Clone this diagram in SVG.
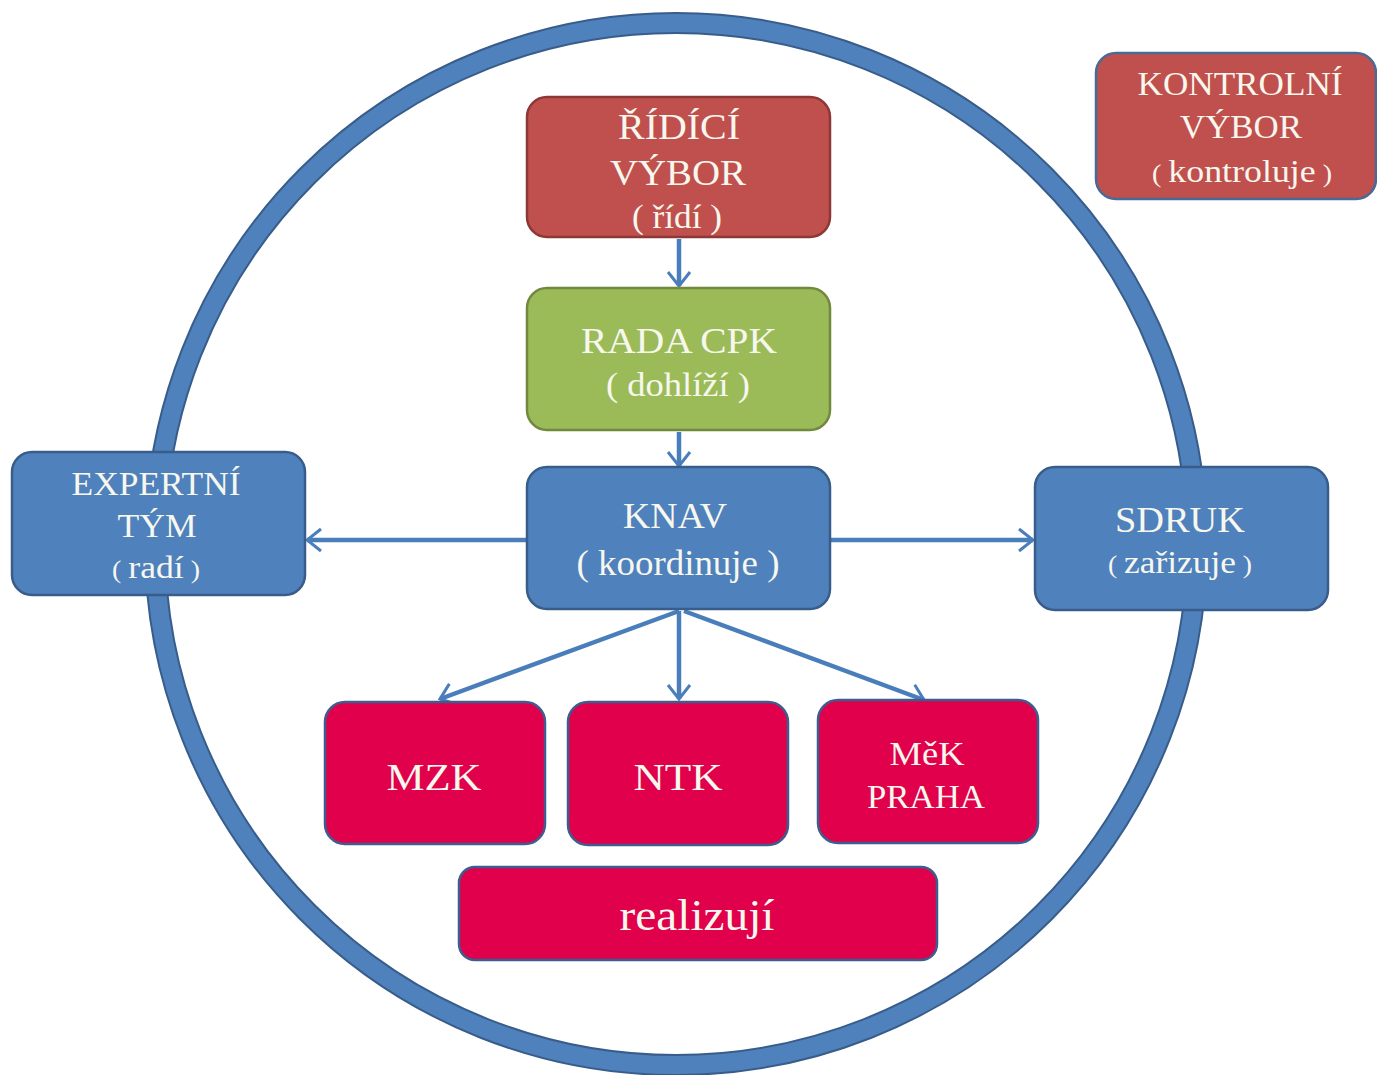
<svg xmlns="http://www.w3.org/2000/svg" width="1377" height="1075" viewBox="0 0 1377 1075">
<style>
.t{font-family:"Liberation Serif","DejaVu Serif",serif;fill:#f7f7ee;text-anchor:middle}
.red{fill:#c0504d;stroke:#8c3836;stroke-width:2.5}
.green{fill:#9bbb59;stroke:#71893f;stroke-width:2.5}
.blue{fill:#4f81bd;stroke:#385d8a;stroke-width:2.5}
.crim{fill:#e1004b;stroke:#3e5d8f;stroke-width:2.5}
.c{stroke:#4a7ebb;stroke-width:4.5;fill:none;marker-end:url(#ah)}
</style>
<defs>
<marker id="ah" viewBox="0 0 18 26" refX="16" refY="13" markerWidth="18" markerHeight="26" markerUnits="userSpaceOnUse" orient="auto">
<path d="M2,2 L16,13 L2,24" fill="none" stroke="#4a7ebb" stroke-width="3"/>
</marker>
</defs>
<rect width="1377" height="1075" fill="#ffffff"/>
<g id="ring">
<circle cx="676" cy="544" r="521" fill="none" stroke="#385d8a" stroke-width="22"/>
<circle cx="676" cy="544" r="521" fill="none" stroke="#4f81bd" stroke-width="18"/>
</g>
<g id="connectors">
<line class="c" x1="679" y1="239" x2="679" y2="286"/>
<line class="c" x1="679" y1="432" x2="679" y2="466"/>
<line class="c" x1="527" y1="540" x2="307" y2="540"/>
<line class="c" x1="830" y1="540" x2="1033" y2="540"/>
<line class="c" x1="679" y1="611" x2="440" y2="699"/>
<line class="c" x1="679" y1="611" x2="679" y2="699"/>
<line class="c" x1="684" y1="611" x2="924" y2="700"/>
</g>
<g id="ridici">
<rect class="red" x="527" y="97" width="303" height="140" rx="20"/>
<text class="t" x="679" y="139" font-size="35" textLength="122" lengthAdjust="spacingAndGlyphs">ŘÍDÍCÍ</text>
<text class="t" x="678" y="185" font-size="35" textLength="136" lengthAdjust="spacingAndGlyphs">VÝBOR</text>
<text class="t" x="677" y="228" font-size="33" textLength="90" lengthAdjust="spacingAndGlyphs">( řídí )</text>
</g>
<g id="kontrolni">
<rect class="red" x="1096" y="53" width="280" height="146" rx="20" style="stroke:#4a6a96"/>
<text class="t" x="1240" y="95" font-size="33" textLength="205" lengthAdjust="spacingAndGlyphs">KONTROLNÍ</text>
<text class="t" x="1241" y="138" font-size="33" textLength="122" lengthAdjust="spacingAndGlyphs">VÝBOR</text>
<text class="t" x="1242" y="182" font-size="32" textLength="180" lengthAdjust="spacingAndGlyphs"><tspan font-size="25">( </tspan>kontroluje<tspan font-size="25"> )</tspan></text>
</g>
<g id="rada">
<rect class="green" x="527" y="288" width="303" height="142" rx="20"/>
<text class="t" x="679" y="353" font-size="35" textLength="196" lengthAdjust="spacingAndGlyphs">RADA CPK</text>
<text class="t" x="678" y="396" font-size="34" textLength="144" lengthAdjust="spacingAndGlyphs">( dohlíží )</text>
</g>
<g id="knav">
<rect class="blue" x="527" y="467" width="303" height="142" rx="20"/>
<text class="t" x="675" y="528" font-size="35" textLength="104" lengthAdjust="spacingAndGlyphs">KNAV</text>
<text class="t" x="678" y="575" font-size="35" textLength="203" lengthAdjust="spacingAndGlyphs">( koordinuje )</text>
</g>
<g id="expertni">
<rect class="blue" x="12" y="452" width="293" height="143" rx="20"/>
<text class="t" x="156" y="495" font-size="33" textLength="169" lengthAdjust="spacingAndGlyphs">EXPERTNÍ</text>
<text class="t" x="157" y="537" font-size="33" textLength="79" lengthAdjust="spacingAndGlyphs">TÝM</text>
<text class="t" x="156" y="578" font-size="32" textLength="88" lengthAdjust="spacingAndGlyphs"><tspan font-size="25">( </tspan>radí<tspan font-size="25"> )</tspan></text>
</g>
<g id="sdruk">
<rect class="blue" x="1035" y="467" width="293" height="143" rx="20"/>
<text class="t" x="1180" y="532" font-size="35" textLength="130" lengthAdjust="spacingAndGlyphs">SDRUK</text>
<text class="t" x="1180" y="573" font-size="32" textLength="144" lengthAdjust="spacingAndGlyphs"><tspan font-size="25">( </tspan>zařizuje<tspan font-size="25"> )</tspan></text>
</g>
<g id="mzk">
<rect class="crim" x="325" y="702" width="220" height="142" rx="20"/>
<text class="t" x="434" y="790" font-size="38" textLength="95" lengthAdjust="spacingAndGlyphs">MZK</text>
</g>
<g id="ntk">
<rect class="crim" x="568" y="702" width="220" height="143" rx="20"/>
<text class="t" x="678" y="790" font-size="38" textLength="89" lengthAdjust="spacingAndGlyphs">NTK</text>
</g>
<g id="mek">
<rect class="crim" x="818" y="700" width="220" height="143" rx="20"/>
<text class="t" x="927" y="765" font-size="33" textLength="75" lengthAdjust="spacingAndGlyphs">MěK</text>
<text class="t" x="926" y="808" font-size="33" textLength="118" lengthAdjust="spacingAndGlyphs">PRAHA</text>
</g>
<g id="realizuji">
<rect class="crim" x="459" y="867" width="478" height="93" rx="16"/>
<text class="t" x="697" y="930" font-size="44" textLength="155" lengthAdjust="spacingAndGlyphs">realizují</text>
</g>
</svg>
